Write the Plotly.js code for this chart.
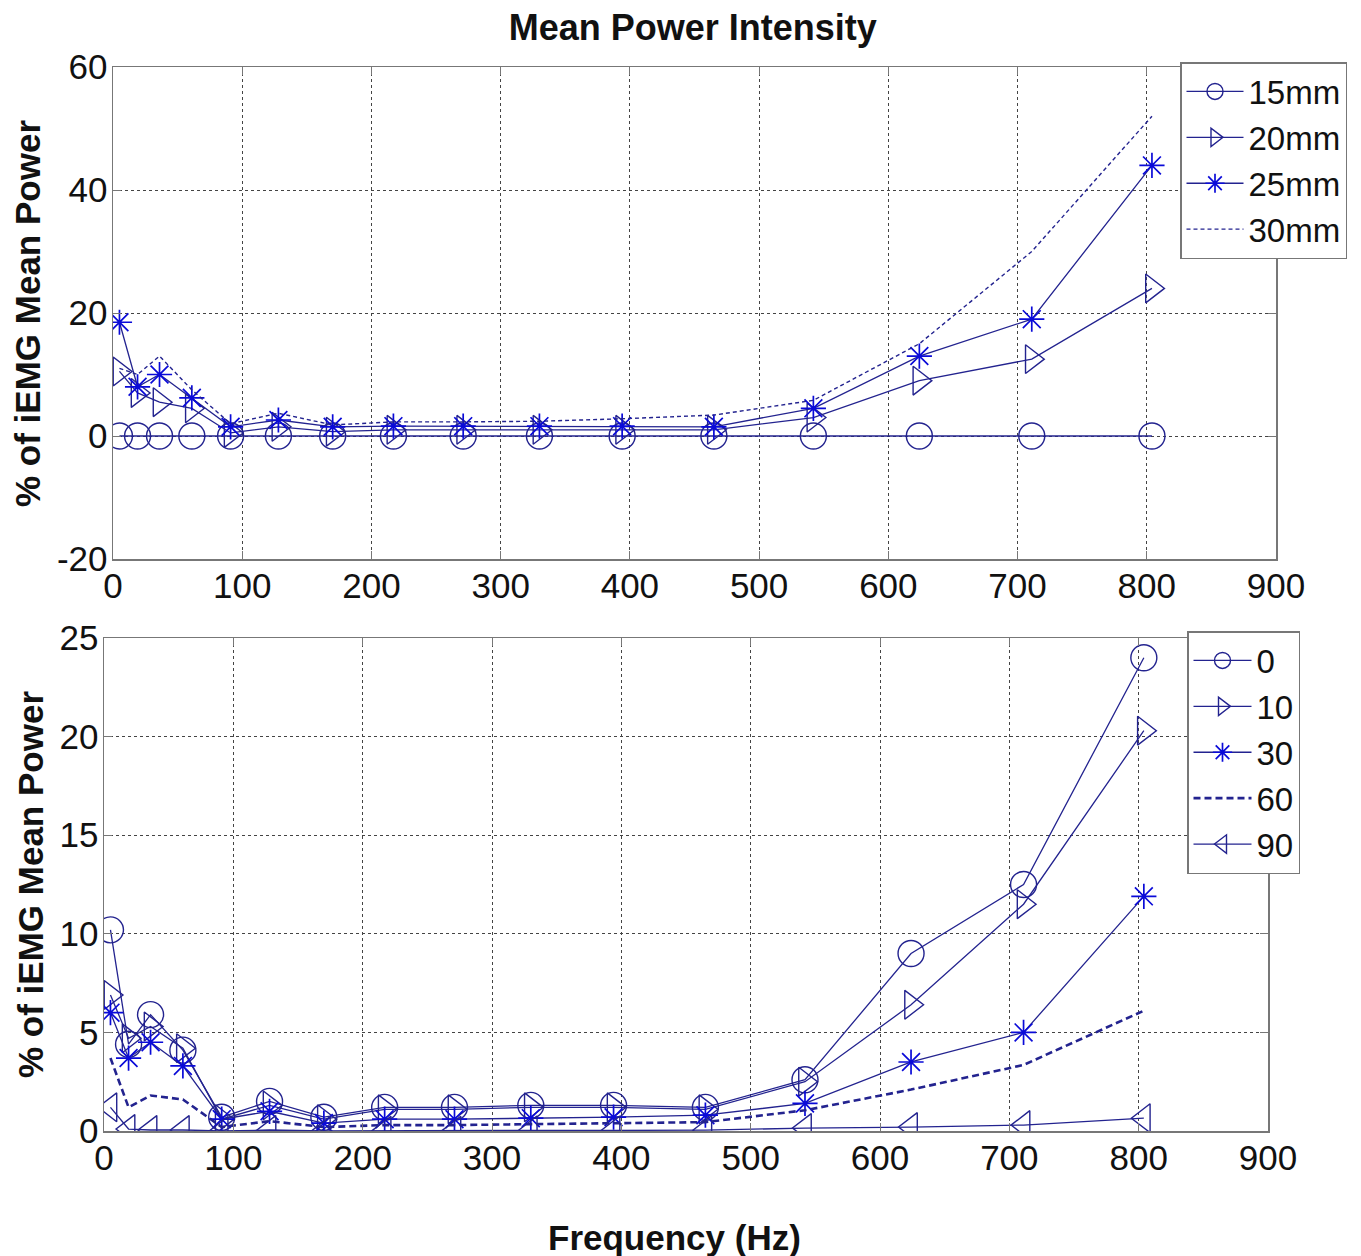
<!DOCTYPE html>
<html>
<head>
<meta charset="utf-8">
<script src="https://cdn.plot.ly/plotly-3.0.1.min.js"></script>
<style>html,body{margin:0;padding:0;background:#fff;}#chart{width:1361px;height:1256px;}</style>
</head>
<body>
<div id="chart"></div>
<script>
// Frequencies (Hz), shared by all series
const freq = [5, 19, 36, 61, 91, 128, 170, 217, 271, 330, 394, 465, 542, 624, 711, 804];

// Top panel: electrode distance
const topNames = ["15mm", "20mm", "25mm", "30mm"];
const top15 = [0, 0, 0, 0, 0, 0, 0, 0, 0, 0, 0, 0, 0, 0, 0, 0];
const top20 = [10.5, 7, 5.5, 4.5, 0.5, 1.5, 0.7, 1.0, 1.0, 1.0, 1.0, 1.0, 3.0, 9.0, 12.5, 24.0];
const top25 = [18.5, 8, 10, 6.2, 1.5, 2.6, 1.5, 1.6, 1.6, 1.6, 1.6, 1.5, 4.5, 13.0, 19.0, 44.0];
const top30 = [11, 10, 13, 7.5, 2.0, 3.7, 1.8, 2.3, 2.3, 2.4, 2.8, 3.4, 5.8, 15.0, 30.0, 52.0];

// Bottom panel: angle
const botNames = ["0", "10", "30", "60", "90"];
const bot0 = [10.2, 4.4, 5.9, 4.1, 0.7, 1.5, 0.7, 1.2, 1.2, 1.3, 1.3, 1.2, 2.6, 9.0, 12.5, 24.0];
const bot10 = [6.9, 4.7, 5.3, 4.2, 0.6, 1.3, 0.6, 1.1, 1.1, 1.2, 1.2, 1.1, 2.5, 6.4, 11.5, 20.3];
const bot30 = [6.0, 3.7, 4.5, 3.3, 0.6, 1.0, 0.4, 0.6, 0.6, 0.65, 0.7, 0.8, 1.4, 3.5, 5.0, 11.9];
const bot60 = [3.7, 1.2, 1.8, 1.6, 0.2, 0.5, 0.2, 0.3, 0.3, 0.35, 0.4, 0.45, 1.05, 2.1, 3.35, 6.1];
const bot90 = [1.2, 0.1, 0.05, 0.05, 0.0, 0.05, 0.0, 0.02, 0.02, 0.03, 0.03, 0.04, 0.15, 0.2, 0.3, 0.65];

// Tick values
const xTicks = [0, 100, 200, 300, 400, 500, 600, 700, 800, 900];
const yTopTicks = [-20, 0, 20, 40, 60];
const yBotTicks = [0, 5, 10, 15, 20, 25];

const NAVY = "#23238f";
const BLUE = "#0a0ad8";
const FONT = "Liberation Sans, Arial, sans-serif";

function tr(x, y, name, sym, xa, ya, leg, opts) {
  opts = opts || {};
  const t = {
    x: x, y: y, name: name, type: "scatter", xaxis: xa, yaxis: ya, legend: leg,
    mode: sym ? "lines+markers" : "lines",
    line: {color: opts.lineColor || NAVY, width: opts.width || 1.3, dash: opts.dash || "solid"}
  };
  if (sym) {
    t.marker = {symbol: sym, size: opts.size || 25, color: opts.mColor || NAVY,
                line: {color: opts.mColor || NAVY, width: opts.mWidth || 1.4}};
  }
  return t;
}

const data = [
  tr(freq, top15, topNames[0], "circle-open", "x", "y", "legend", {size: 26}),
  tr(freq, top20, topNames[1], "triangle-right-open", "x", "y", "legend", {size: 25}),
  tr(freq, top25, topNames[2], "asterisk-open", "x", "y", "legend", {size: 21, mColor: BLUE, mWidth: 1.7}),
  tr(freq, top30, topNames[3], null, "x", "y", "legend", {dash: "4px,3px", width: 1.4}),
  tr(freq, bot0, botNames[0], "circle-open", "x2", "y2", "legend2", {size: 26}),
  tr(freq, bot10, botNames[1], "triangle-right-open", "x2", "y2", "legend2", {size: 25}),
  tr(freq, bot30, botNames[2], "asterisk-open", "x2", "y2", "legend2", {size: 21, mColor: BLUE, mWidth: 1.7}),
  tr(freq, bot60, botNames[3], null, "x2", "y2", "legend2", {dash: "7px,4px", width: 2.6}),
  tr(freq, bot90, botNames[4], "triangle-left-open", "x2", "y2", "legend2", {size: 25})
];

const W = 1361, H = 1256;
const px = v => v / W;
const py = v => 1 - v / H;

const tickFont = {family: FONT, size: 35, color: "#111"};
function xax(domain, anchor) {
  return {
    domain: domain, anchor: anchor, range: [0, 900], tickvals: xTicks, ticktext: xTicks.map(String),
    showgrid: true, gridcolor: "#444", griddash: "dot", gridwidth: 1,
    showline: true, linecolor: "#777", linewidth: 1.5, mirror: "ticks",
    ticks: "inside", ticklen: 8, tickcolor: "#777", tickfont: tickFont, zeroline: false,
    fixedrange: true, ticklabelstandoff: -5
  };
}
function yax(domain, anchor, range, ticks) {
  return {
    domain: domain, anchor: anchor, range: range, tickvals: ticks, ticktext: ticks.map(String),
    showgrid: true, gridcolor: "#444", griddash: "dot", gridwidth: 1,
    showline: true, linecolor: "#777", linewidth: 1.5, mirror: "ticks",
    ticks: "inside", ticklen: 8, tickcolor: "#777", tickfont: tickFont, zeroline: false,
    fixedrange: true, ticklabelstandoff: -3
  };
}

const legFont = {family: FONT, size: 33, color: "#111"};
const layout = {
  width: W, height: H,
  margin: {l: 0, r: 0, t: 0, b: 0},
  paper_bgcolor: "#fff", plot_bgcolor: "#fff",
  showlegend: true,
  title: {text: "<b>Mean Power Intensity</b>", font: {family: FONT, size: 36, color: "#111"},
          x: 0.509, xanchor: "center", y: py(27), yanchor: "middle"},
  xaxis: xax([px(113), px(1276)], "y"),
  yaxis: yax([py(559), py(67)], "x", [-20, 60], yTopTicks),
  xaxis2: xax([px(104), px(1268)], "y2"),
  yaxis2: yax([py(1131), py(638)], "x2", [0, 25], yBotTicks),
  legend: {x: px(1180), y: py(62), xanchor: "left", yanchor: "top", bgcolor: "#fff",
           bordercolor: "#777", borderwidth: 1.5, font: legFont, tracegroupgap: 0, itemwidth: 57},
  legend2: {x: px(1187), y: py(631), xanchor: "left", yanchor: "top", bgcolor: "#fff",
            bordercolor: "#777", borderwidth: 1.5, font: legFont, tracegroupgap: 0, itemwidth: 58},
  annotations: [
    {text: "<b>% of iEMG Mean Power</b>", xref: "paper", yref: "paper", x: px(27), y: py(314),
     textangle: -90, showarrow: false, xanchor: "center", yanchor: "middle",
     font: {family: FONT, size: 35, color: "#111"}},
    {text: "<b>% of iEMG Mean Power</b>", xref: "paper", yref: "paper", x: px(30), y: py(885),
     textangle: -90, showarrow: false, xanchor: "center", yanchor: "middle",
     font: {family: FONT, size: 35, color: "#111"}},
    {text: "<b>Frequency (Hz)</b>", xref: "paper", yref: "paper", x: px(674), y: py(1237),
     showarrow: false, xanchor: "center", yanchor: "middle",
     font: {family: FONT, size: 35, color: "#111"}}
  ]
};

Plotly.newPlot("chart", data, layout, {displayModeBar: false, staticPlot: true});
</script>
</body>
</html>
